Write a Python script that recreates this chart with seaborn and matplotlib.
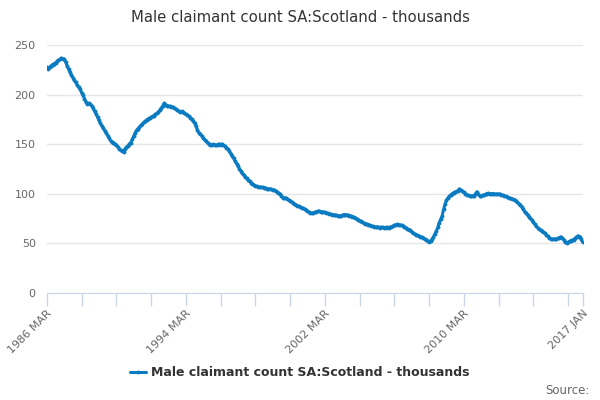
import pandas as pd
import matplotlib
matplotlib.use("Agg")
import matplotlib.pyplot as plt
import seaborn as sns

# monthly values, thousands (1986 MAR .. 2017 JAN)
y1986 = [227.8, 226.0, 227.5, 229.0, 230.3, 231.2, 232.0, 233.4, 234.5, 235.6]
y1987 = [236.8, 235.5, 235.9, 233.0, 229.1, 225.6, 222.4, 219.8, 217.0, 214.6, 212.3, 209.5]
y1988 = [207.3, 205.2, 202.0, 199.1, 196.0, 192.4, 190.5, 191.3, 190.2, 188.6, 186.0, 183.1]
y1989 = [180.4, 177.2, 174.0, 171.1, 168.5, 166.0, 163.8, 161.2, 158.6, 156.0, 153.5, 152.4]
y1990 = [151.5, 150.2, 149.0, 147.3, 145.4, 144.0, 143.2, 142.6, 145.3, 147.0, 148.2, 150.4]
y1991 = [151.5, 155.0, 158.4, 161.5, 164.1, 165.8, 167.3, 169.0, 170.4, 172.0, 173.2, 174.6]
y1992 = [175.5, 176.4, 177.3, 178.0, 178.9, 180.2, 181.0, 182.5, 184.3, 186.4, 188.5, 191.2]
y1993 = [189.5, 188.9, 188.2, 188.4, 187.8, 187.5, 186.6, 185.6, 184.5, 183.4, 182.2, 183.0]
y1994 = [182.0, 181.0, 180.2, 179.4, 178.2, 176.9, 175.2, 173.3, 171.4, 168.0, 164.1, 161.6]
y1995 = [160.2, 158.3, 156.4, 154.6, 153.0, 151.5, 150.7, 149.6, 149.2, 149.8, 149.4, 149.0]
y1996 = [149.6, 150.3, 149.5, 150.1, 148.8, 147.9, 146.6, 145.0, 143.2, 140.4, 138.2, 135.8]
y1997 = [132.9, 130.5, 128.0, 125.3, 122.8, 120.6, 118.9, 117.1, 115.5, 113.8, 112.4, 111.0]
y1998 = [110.1, 108.8, 108.0, 107.4, 107.2, 106.9, 106.5, 106.6, 106.1, 105.8, 105.3, 105.0]
y1999 = [104.8, 104.6, 104.0, 103.9, 103.0, 101.8, 101.0, 100.1, 98.0, 96.2, 95.6, 96.0]
y2000 = [94.9, 93.8, 93.0, 91.8, 90.7, 89.8, 88.9, 88.0, 87.2, 86.7, 85.9, 85.3]
y2001 = [84.5, 83.6, 82.6, 81.7, 81.0, 80.6, 80.9, 81.3, 82.0, 82.4, 82.6, 82.0]
y2002 = [81.5, 81.8, 81.2, 81.0, 80.3, 79.8, 79.5, 79.0, 78.8, 78.5, 78.3, 78.0]
y2003 = [77.8, 77.5, 78.2, 78.9, 79.1, 78.8, 78.4, 78.0, 77.6, 77.0, 76.4, 75.6]
y2004 = [75.0, 74.0, 73.0, 72.1, 71.2, 70.5, 70.0, 69.5, 68.9, 68.2, 67.7, 67.2]
y2005 = [66.9, 66.5, 66.7, 66.3, 66.0, 66.4, 66.1, 65.8, 66.0, 66.3, 65.9, 66.3]
y2006 = [66.8, 67.6, 68.3, 68.8, 69.2, 69.0, 68.7, 68.2, 67.6, 66.8, 65.8, 64.6]
y2007 = [64.0, 63.2, 61.8, 60.3, 59.5, 58.8, 58.2, 57.6, 56.9, 56.2, 55.4, 54.6]
y2008 = [53.9, 52.5, 51.6, 52.3, 54.0, 56.5, 59.3, 62.4, 66.2, 71.0, 74.4, 77.6]
y2009 = [84.5, 89.6, 93.3, 95.8, 97.4, 98.8, 100.1, 101.2, 102.0, 102.4, 103.2, 104.9]
y2010 = [103.6, 102.5, 101.4, 100.3, 99.2, 98.6, 98.2, 98.0, 97.7, 98.2, 99.6, 102.0]
y2011 = [99.4, 98.2, 97.8, 98.3, 99.0, 99.6, 100.2, 100.4, 100.1, 100.0, 100.3, 99.9]
y2012 = [99.8, 99.6, 99.9, 99.5, 99.1, 98.6, 98.0, 97.4, 96.7, 96.1, 95.6, 95.0]
y2013 = [94.4, 93.8, 92.8, 91.5, 90.2, 88.9, 87.0, 84.6, 82.0, 80.5, 78.6, 76.8]
y2014 = [75.2, 73.3, 71.5, 69.4, 67.3, 65.8, 64.5, 63.2, 62.1, 61.4, 60.2, 58.6]
y2015 = [57.0, 55.6, 54.8, 54.3, 54.6, 54.2, 54.5, 55.0, 55.8, 56.6, 55.2, 53.8]
y2016 = [51.6, 50.2, 51.0, 52.1, 52.8, 53.3, 53.9, 55.2, 56.8, 57.6, 56.9, 54.0]
y2017 = [51.5]

values = (y1986 + y1987 + y1988 + y1989 + y1990 + y1991 + y1992 + y1993
          + y1994 + y1995 + y1996 + y1997 + y1998 + y1999 + y2000 + y2001
          + y2002 + y2003 + y2004 + y2005 + y2006 + y2007 + y2008 + y2009
          + y2010 + y2011 + y2012 + y2013 + y2014 + y2015 + y2016 + y2017)

series_name = "Male claimant count SA:Scotland - thousands"
y_ticks = [0, 50, 100, 150, 200, 250]

df = pd.DataFrame({
    "date": pd.date_range("1986-03-01", periods=len(values), freq="MS"),
    "value": values,
})

# ticks every 24 months, labelled every 8 years, plus the last month
tick_dates = list(df["date"].iloc[::24]) + [df["date"].iloc[-1]]
tick_labels = []
for i, d in enumerate(tick_dates):
    if i % 4 == 0 or i == len(tick_dates) - 1:
        tick_labels.append(d.strftime("%Y ") + d.strftime("%b").upper())
    else:
        tick_labels.append("")

sns.set_style("white")
plt.rcParams["font.family"] = ["DejaVu Sans"]

fig = plt.figure(figsize=(6, 4), dpi=100)
ax = fig.add_axes([0.078, 0.2675, 0.893, 0.62])

line_color = "#0b7bc1"
sns.lineplot(data=df, x="date", y="value", ax=ax, color=line_color,
             linewidth=2.2, marker="o", markersize=2.8, markeredgewidth=0,
             label=series_name)

ax.set_xlim(df["date"].iloc[0], df["date"].iloc[-1])
ax.set_ylim(0, 250)
ax.set_yticks(y_ticks)
ax.set_xticks(tick_dates)
ax.set_xticklabels(tick_labels, rotation=45, ha="right", rotation_mode="anchor")
ax.set_xlabel("")
ax.set_ylabel("")

ax.grid(axis="y", color="#e6e6e6", linewidth=1)
ax.set_axisbelow(True)
for s in ["top", "right", "left"]:
    ax.spines[s].set_visible(False)
ax.spines["bottom"].set_color("#ccd6eb")
ax.tick_params(axis="x", bottom=True, direction="out", colors="#ccd6eb",
               length=9, width=1, pad=2, labelcolor="#666666", labelsize=8)
ax.tick_params(axis="y", left=False, length=0, labelcolor="#666666",
               labelsize=8, pad=8)

fig.text(0.5, 0.955, "Male claimant count SA:Scotland - thousands",
         ha="center", va="center", fontsize=10.7, color="#333333")

leg = ax.legend(loc="center", bbox_to_anchor=(0.5, 0.0675),
                bbox_transform=fig.transFigure, frameon=False,
                prop={"weight": "bold", "size": 9.0}, handlelength=1.3,
                handletextpad=0.4)
for t in leg.get_texts():
    t.set_color("#333333")

fig.text(0.982, 0.025, "Source:", ha="right", va="center",
         fontsize=8.5, color="#666666")

fig.savefig("out.png", dpi=100)
